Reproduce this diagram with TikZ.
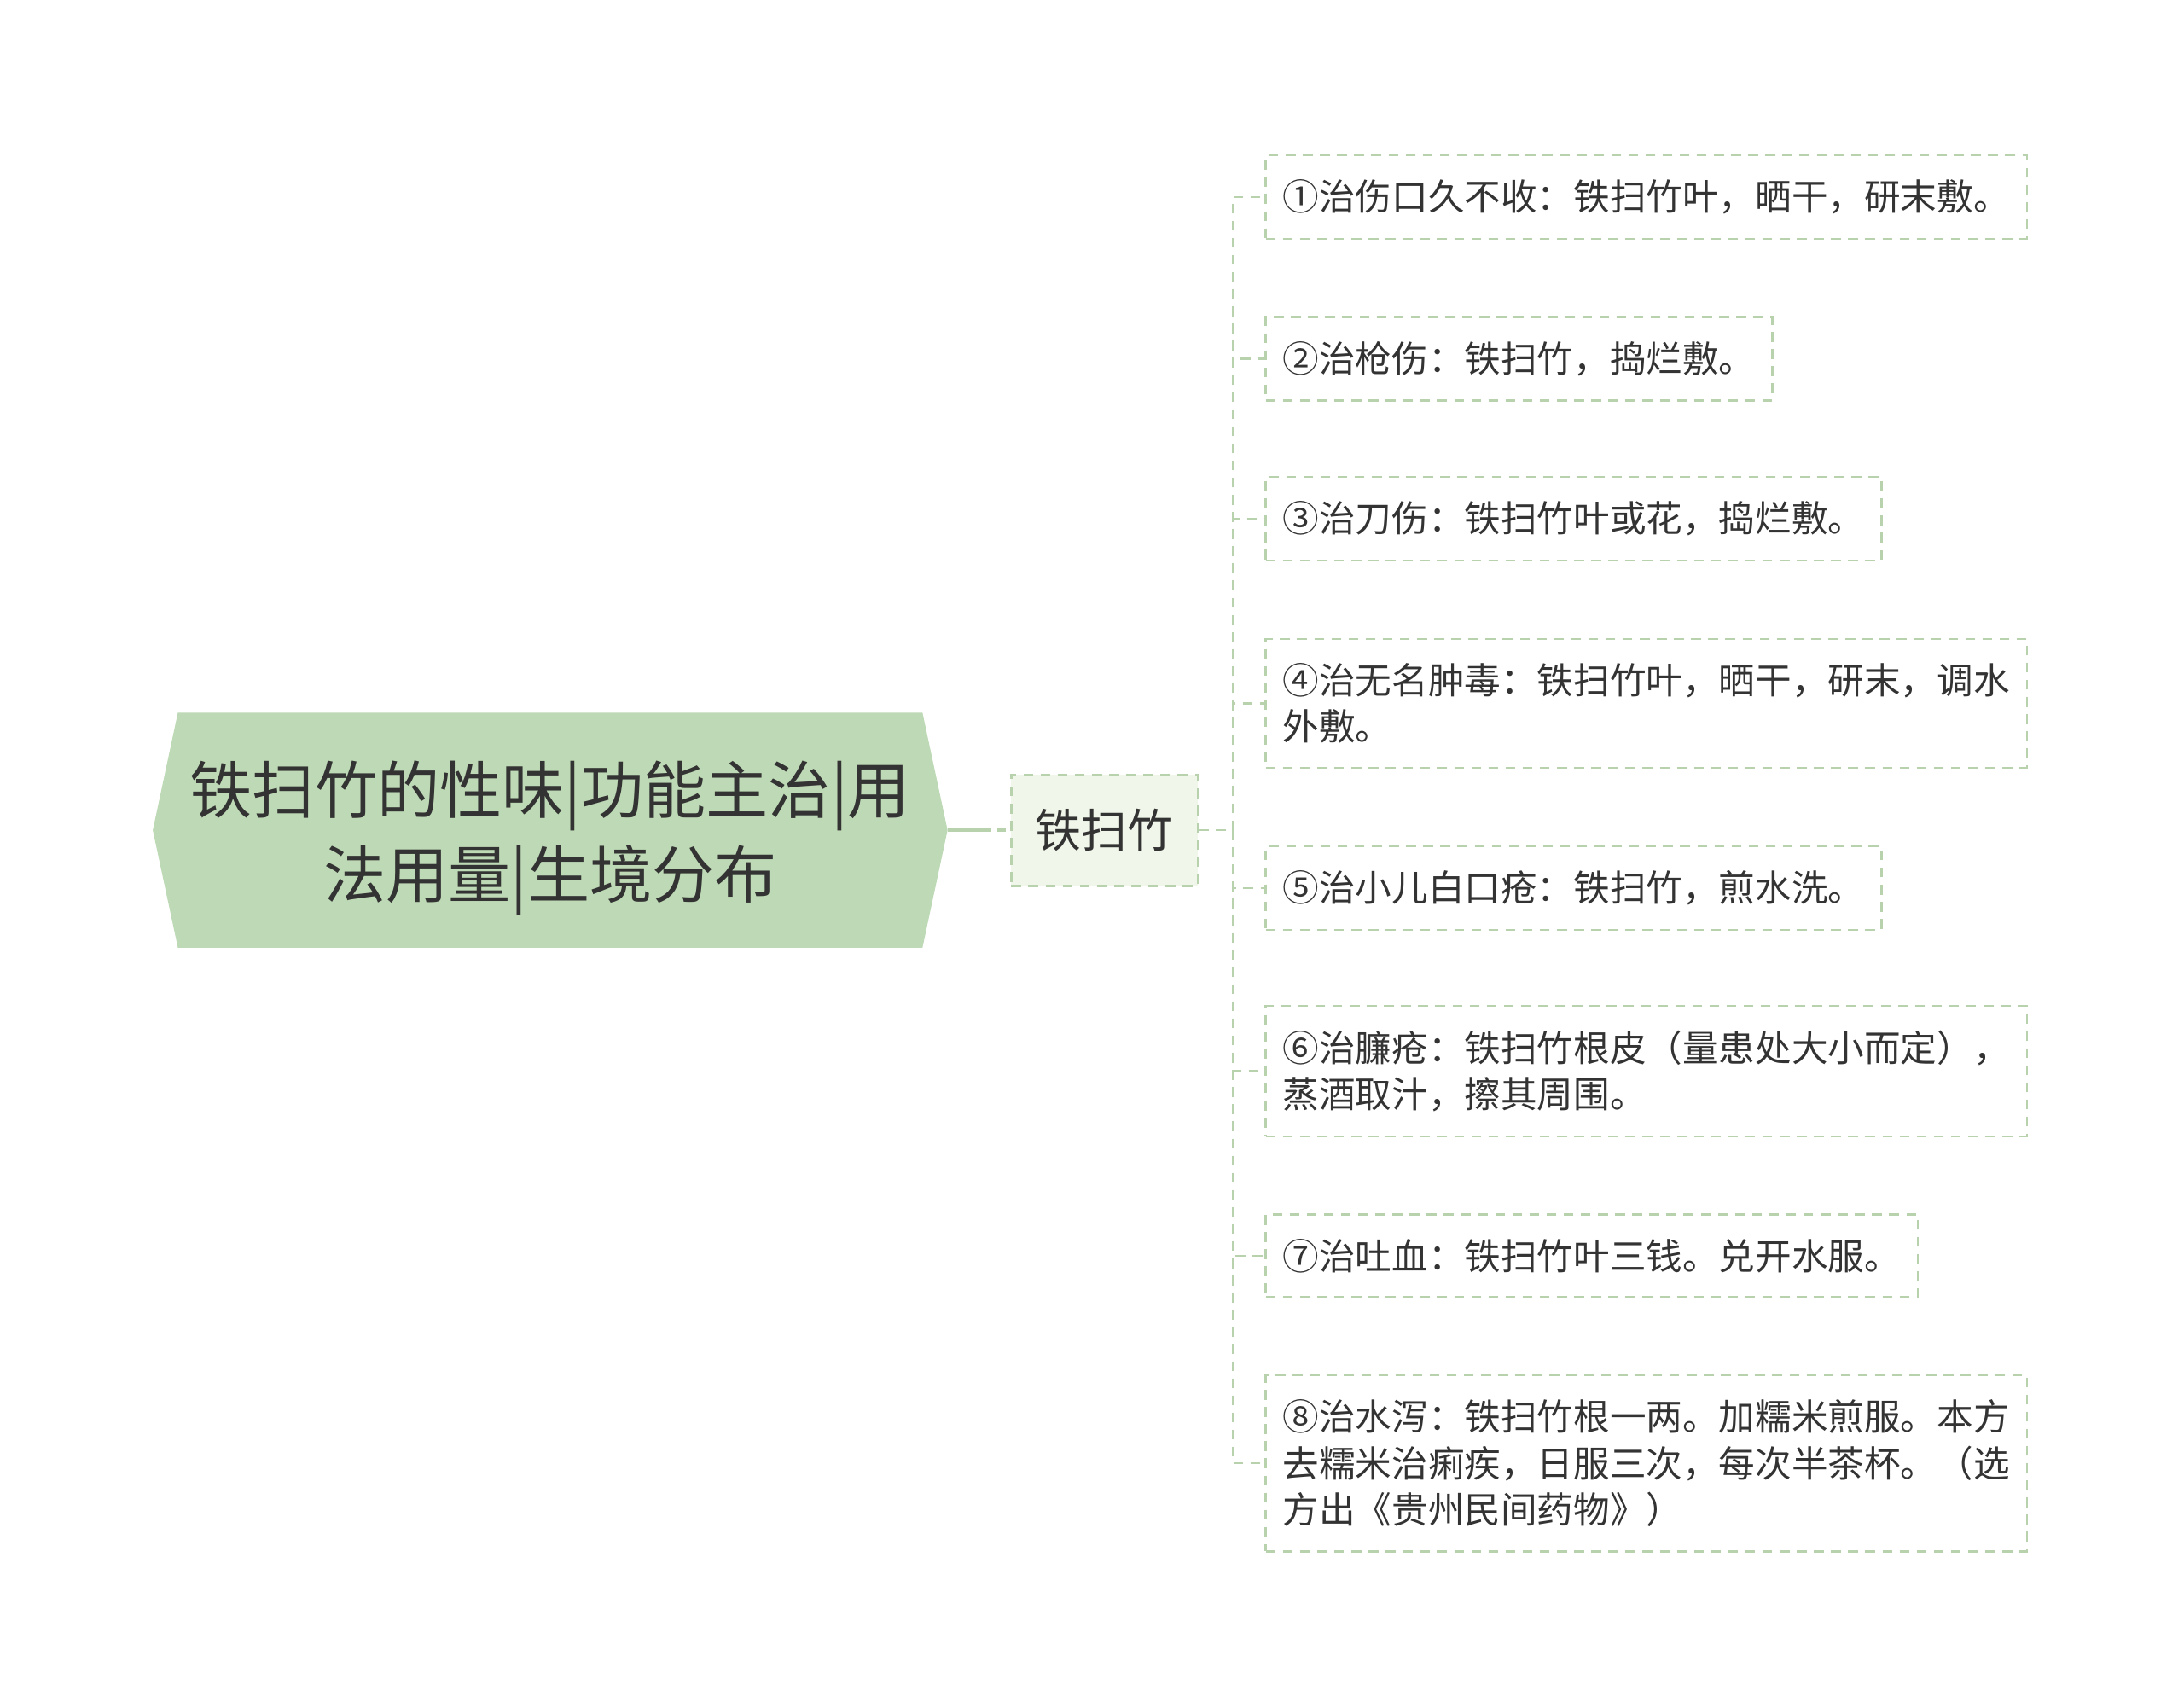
\documentclass[tikz,border=0pt]{standalone}
\usepackage{fontspec}
\setmainfont{Noto Sans CJK SC}
\usetikzlibrary{backgrounds}

\begin{document}
\begin{tikzpicture}[x=0.02cm, y=-0.02cm,
    leaf/.style={draw=linegreen, line width=0.85pt, dash pattern=on 4pt off 3pt, fill=white, text=textgrey,
        anchor=west, align=left, inner xsep=7pt, inner ysep=10pt, minimum height=1.18cm,
        font=\fontsize{14.85}{19}\selectfont},
    link/.style={draw=linegreen, line width=0.85pt, dash pattern=on 4pt off 3pt}]
    % Define colors of the mind map
        \definecolor{rootgreen}{RGB}{190,217,181}  % fill of the main topic
        \definecolor{midgreen}{RGB}{240,247,234}   % fill of the sub topic
        \definecolor{linegreen}{RGB}{183,210,172}  % dashed borders and links
        \definecolor{textgrey}{RGB}{51,51,51}      % text colour

        % Fix the size of the page
        \useasboundingbox (0,0) rectangle (1568,1226);

        % Main topic, the hexagon is filled behind it
        \node[text=textgrey, minimum width=10.68cm, minimum height=3.36cm, inner sep=0pt, align=center,
            font=\fontsize{25.5}{34.5}\selectfont] (root) at (395,596) {\rule{0pt}{28pt}铁扫竹的性味|功能主治|用\\法用量|生境分布};
        \begin{scope}[on background layer]
            \fill[rootgreen] (root.north west) -- (root.north east) -- ([xshift=0.36cm]root.east)
                -- (root.south east) -- (root.south west) -- ([xshift=-0.36cm]root.west) -- cycle;
        \end{scope}

        % Sub topic
        \node[draw=linegreen, line width=0.85pt, dash pattern=on 4pt off 3pt, fill=midgreen, text=textgrey,
            minimum width=2.68cm, minimum height=1.6cm, font=\fontsize{18.8}{22}\selectfont] (mid) at (793,596) {铁扫竹};

        % Link from main topic to sub topic
        \draw[linegreen, line width=1.4pt, dash pattern=on 18pt off 2.3pt on 3.4pt off 10pt]
            ([xshift=0.36cm]root.east) -- (mid.west);

        % The eight recipes
        \node[leaf] (leaf1) at (908,141.5) {①治伤口久不收：铁扫竹叶，晒干，研末敷。};
        \node[leaf] (leaf2) at (908,257.5) {②治枪伤：铁扫竹，捣烂敷。};
        \node[leaf] (leaf3) at (908,372.5) {③治刀伤：铁扫竹叶或花，捣烂敷。};
        \node[leaf] (leaf4) at (908,505) {④治无名肿毒：铁扫竹叶，晒干，研末，调水\\外敷。};
        \node[leaf] (leaf5) at (908,637.5) {⑤治小儿白口疮：铁扫竹，煎水洗。};
        \node[leaf] (leaf6) at (908,769) {⑥治臁疮：铁扫竹根皮（量患处大小而定），\\蒸酒取汁，擦其周围。};
        \node[leaf] (leaf7) at (908,901.5) {⑦治吐血：铁扫竹叶三钱。兑开水服。};
        \node[leaf] (leaf8) at (908,1050.5) {⑧治水泻：铁扫竹根一两。加糯米煎服。本方\\去糯米治痢疾，日服三次，每次半茶杯。（选\\方出《贵州民间药物》）};

        % Links from sub topic to the recipes
        \coordinate (fork) at (885,596);
        \draw[link] (mid.east) -- (fork);
        \foreach \i in {1,...,8}
            \draw[link] (fork) |- (leaf\i.west);

    \end{tikzpicture}
\end{document}
